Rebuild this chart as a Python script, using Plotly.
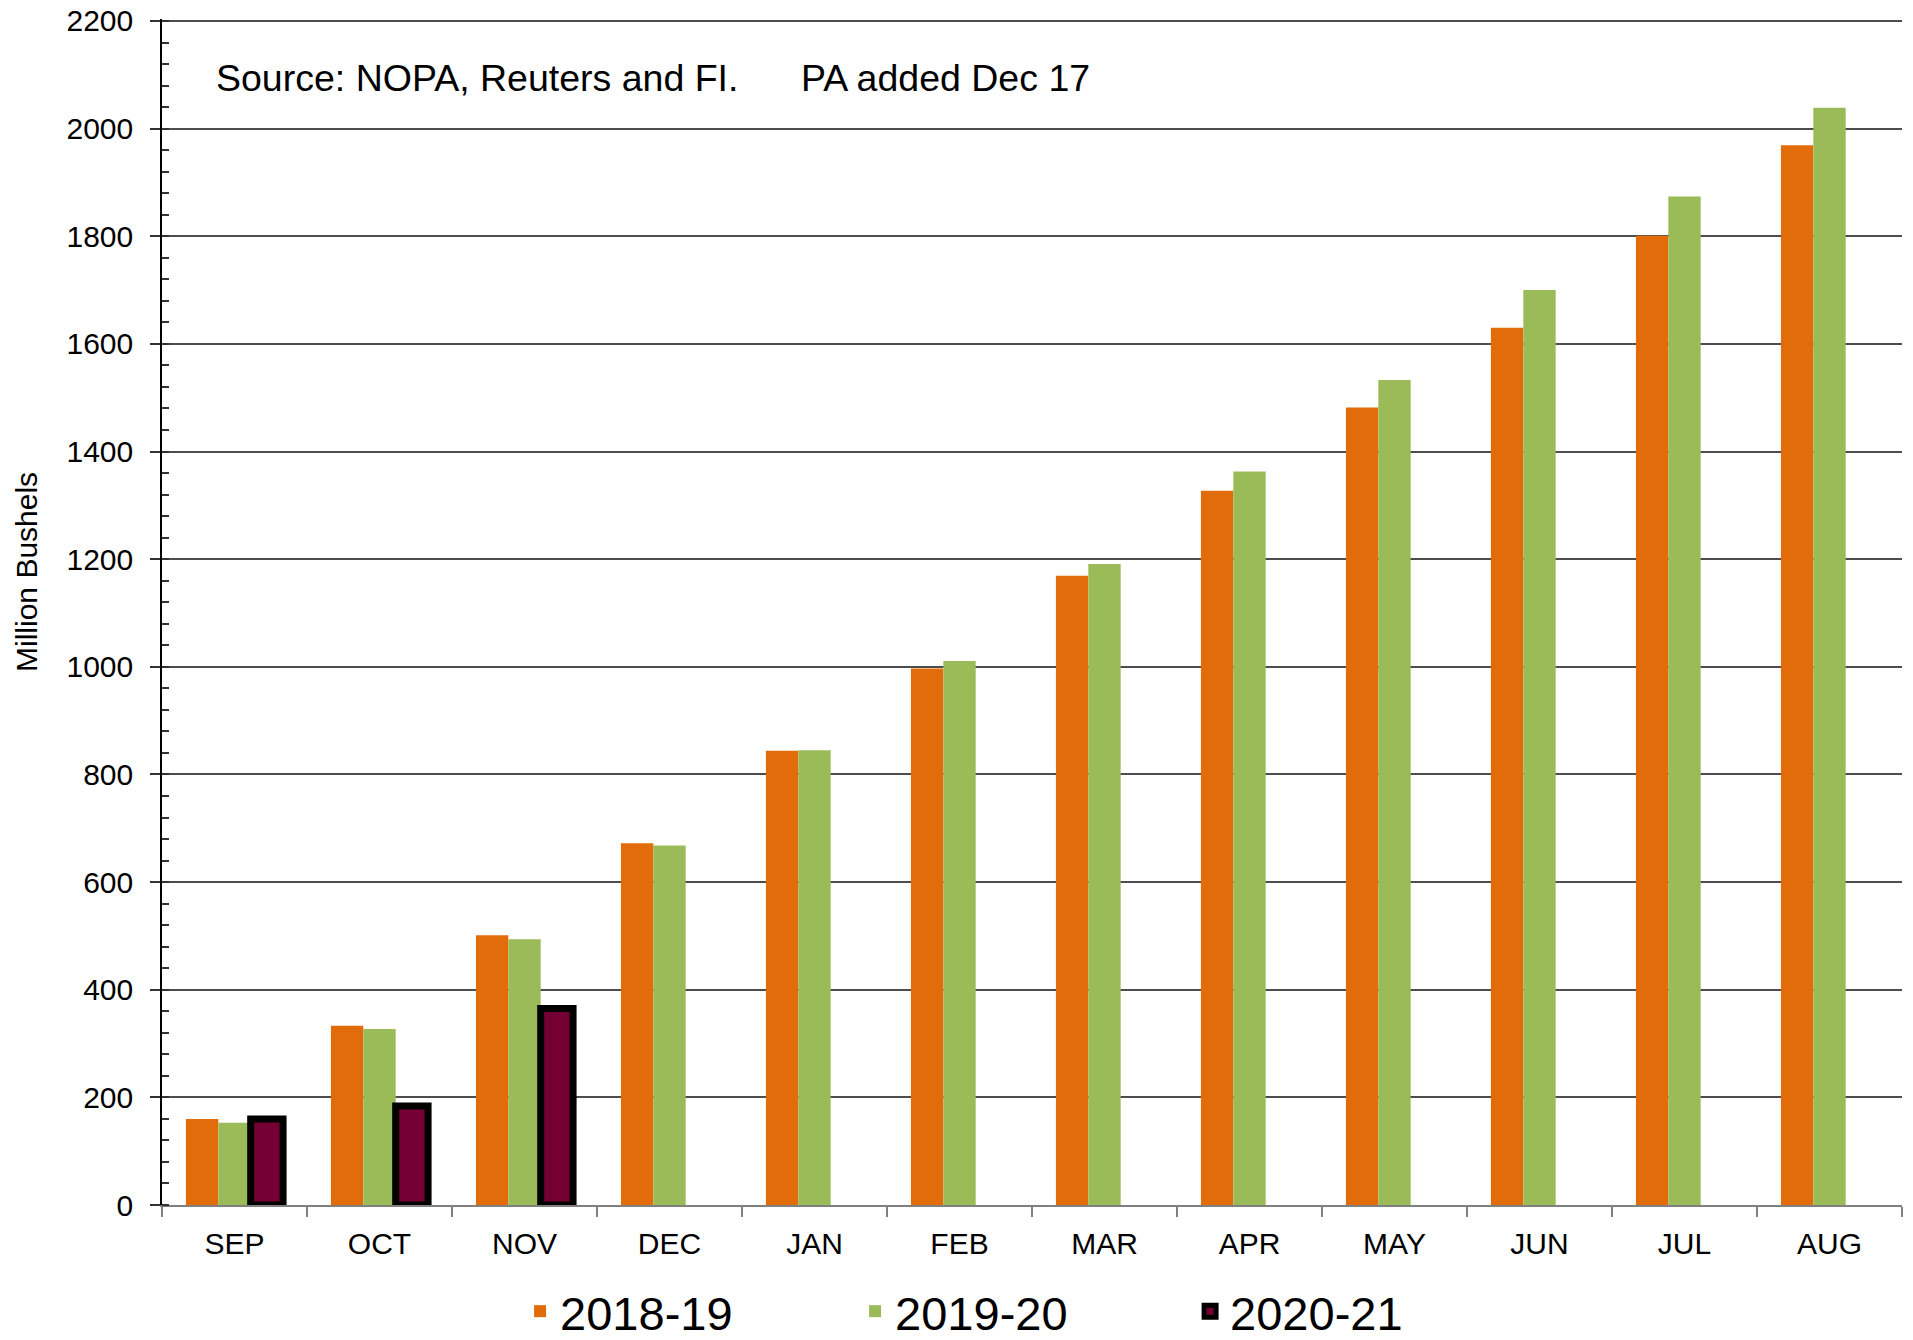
import plotly.graph_objects as go

months = ["SEP", "OCT", "NOV", "DEC", "JAN", "FEB", "MAR", "APR", "MAY", "JUN", "JUL", "AUG"]
s2018_19 = [160, 333, 501, 672, 844, 997, 1169, 1327, 1482, 1630, 1801, 1969]
s2019_20 = [153, 327, 494, 668, 845, 1011, 1191, 1363, 1533, 1700, 1874, 2039]
s2020_21 = [160, 184, 365, None, None, None, None, None, None, None, None, None]

FONT = "Liberation Sans, Arial, sans-serif"

fig = go.Figure()
fig.add_trace(go.Bar(name="2018-19", x=months, y=s2018_19, marker=dict(color="#E36C0A", line=dict(width=0))))
fig.add_trace(go.Bar(name="2019-20", x=months, y=s2019_20, marker=dict(color="#9BBB59", line=dict(width=0))))
fig.add_trace(go.Bar(name="2020-21", x=months, y=s2020_21,
                     marker=dict(color="#750033", line=dict(color="#000000", width=7))))

# page body has an 8px margin, so the figure is 8px smaller and margins shifted
fig.update_layout(
    width=1905, height=1332,
    margin=dict(l=154, r=11, t=11, b=135, autoexpand=False),
    paper_bgcolor="white", plot_bgcolor="white",
    barmode="group", bargap=0.33, bargroupgap=0,
    font=dict(family=FONT, size=30, color="black"),
    showlegend=True,
    legend=dict(orientation="h", x=0.2058, xanchor="left", y=-0.0899, yanchor="middle",
                font=dict(family=FONT, size=47, color="black"),
                entrywidth=290, entrywidthmode="pixels", bgcolor="rgba(0,0,0,0)",
                traceorder="normal"),
    xaxis=dict(type="category", showline=True, linecolor="#808080", linewidth=2,
               ticks="outside", tickson="boundaries", ticklen=10, tickcolor="#808080", tickwidth=2,
               showgrid=False, automargin=False, ticklabelstandoff=11,
               tickfont=dict(family=FONT, size=30, color="black")),
    yaxis=dict(range=[0, 2203.7], dtick=200, tick0=0, showline=True, linecolor="#000000", linewidth=1.5,
               ticks="outside", ticklen=10, tickcolor="#333333", tickwidth=1.5,
               showgrid=True, gridcolor="#4d4d4d", gridwidth=1.5, zeroline=False, automargin=False,
               ticklabeloverflow="allow",
               minor=dict(dtick=40, ticks="inside", ticklen=7, tickcolor="#333333", tickwidth=1.5, showgrid=False),
               tickfont=dict(family=FONT, size=30, color="black"), ticklabelstandoff=11),
    annotations=[
        dict(text="Source: NOPA, Reuters and FI.", xref="paper", yref="paper", x=0.0297, y=0.9503,
             xanchor="left", yanchor="middle", showarrow=False, font=dict(family=FONT, size=37.5, color="black")),
        dict(text="PA added Dec 17", xref="paper", yref="paper", x=0.3662, y=0.9503,
             xanchor="left", yanchor="middle", showarrow=False, font=dict(family=FONT, size=37.5, color="black")),
        dict(text="Million Bushels", xref="paper", yref="paper", x=-0.0782, y=0.5337,
             xanchor="center", yanchor="middle", textangle=-90, showarrow=False,
             font=dict(family=FONT, size=30, color="black")),
    ],
)

fig.write_html("out.html")
